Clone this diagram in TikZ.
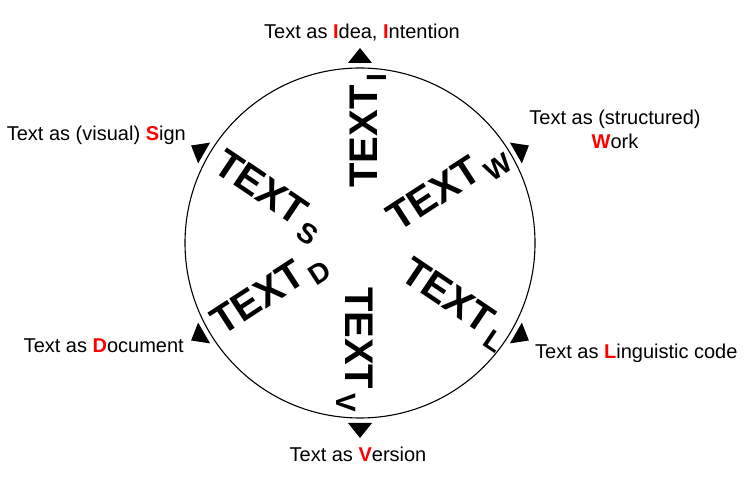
\documentclass[tikz,border=0pt]{standalone}
\usepackage{fontspec}
\setmainfont{Liberation Sans}
\usepackage{tikz}
\usetikzlibrary{calc}

\newcommand{\redl}[1]{\textcolor{red}{\textbf{#1}}}
\newcommand{\spoke}[1]{TEXT\hspace{4pt}\raisebox{-9pt}{\fontsize{28}{28}\selectfont #1}}

\begin{document}
\begin{tikzpicture}[x=1pt,y=1pt,
  spoke/.style={inner sep=0pt,anchor=base west,font=\fontsize{40}{40}\selectfont\bfseries},
  lab/.style={inner sep=0pt,font=\fontsize{20}{24}\selectfont}]
\useasboundingbox (0,0) rectangle (744,481);
\coordinate (c) at (360,238);
\draw[line width=1.1pt] (c) circle (175);
\foreach \a in {90,30,-30,-90,150,210}
  \fill ($(c)+(\a:180)+(\a+90:12)$) -- ($(c)+(\a:195)$) -- ($(c)+(\a:180)+(\a-90:12)$) -- cycle;
\node [spoke,rotate=90] (textI) at (377,293) {\spoke{I}};
\node [spoke,rotate=33] (textW) at (398,248) {\spoke{W}};
\node [spoke,rotate=-34] (textL) at (398,203) {\spoke{L}};
\node [spoke,rotate=-90] (textV) at (345,194) {\spoke{V}};
\node [spoke,rotate=33] (textD) at (222,144) {\spoke{D}};
\node [spoke,rotate=-34] (textS) at (211,311) {\spoke{S}};
\node [lab] (labI) at (362,448) {Text as \redl{I}dea, \redl{I}ntention};
\node [lab,align=center] (labW) at (615,352) {Text as (structured)\\\redl{W}ork};
\node [lab,anchor=west] (labL) at (535,128) {Text as \redl{L}inguistic code};
\node [lab] (labV) at (358,27) {Text as \redl{V}ersion};
\node [lab,anchor=east] (labD) at (184,135) {Text as \redl{D}ocument};
\node [lab,anchor=east] (labS) at (186,346) {Text as (visual) \redl{S}ign};
\end{tikzpicture}
\end{document}
